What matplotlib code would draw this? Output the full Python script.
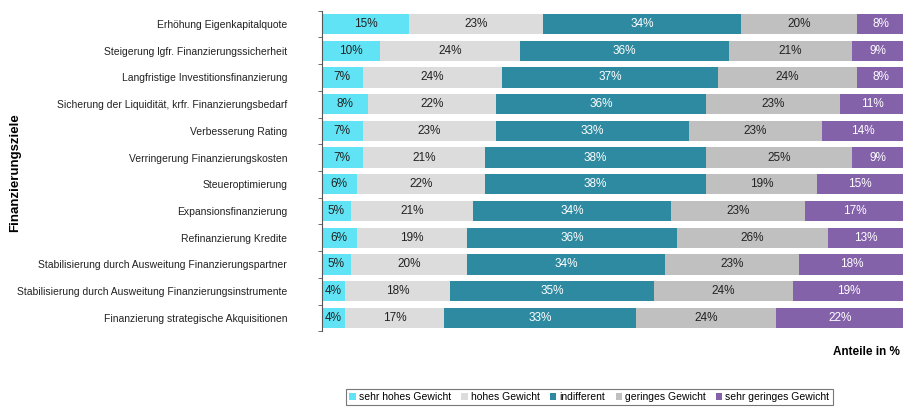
import numpy as np
import matplotlib
matplotlib.use("Agg")
import matplotlib.pyplot as plt

plt.rcParams['font.family'] = ['Liberation Sans', 'DejaVu Sans']

ziele = ['Erhöhung Eigenkapitalquote',
         'Steigerung lgfr. Finanzierungssicherheit',
         'Langfristige Investitionsfinanzierung',
         'Sicherung der Liquidität, krfr. Finanzierungsbedarf',
         'Verbesserung Rating',
         'Verringerung Finanzierungskosten',
         'Steueroptimierung',
         'Expansionsfinanzierung',
         'Refinanzierung Kredite',
         'Stabilisierung durch Ausweitung Finanzierungspartner',
         'Stabilisierung durch Ausweitung Finanzierungsinstrumente',
         'Finanzierung strategische Akquisitionen']

sehr_hoch = [15, 10, 7, 8, 7, 7, 6, 5, 6, 5, 4, 4]
hoch = [23, 24, 24, 22, 23, 21, 22, 21, 19, 20, 18, 17]
indifferent = [34, 36, 37, 36, 33, 38, 38, 34, 36, 34, 35, 33]
gering = [20, 21, 24, 23, 23, 25, 19, 23, 26, 23, 24, 24]
sehr_gering = [8, 9, 8, 11, 14, 9, 15, 17, 13, 18, 19, 22]

serien = ['sehr hohes Gewicht', 'hohes Gewicht', 'indifferent',
          'geringes Gewicht', 'sehr geringes Gewicht']
farben = ['#5fe3f5', '#dcdcdc', '#2e8aa0', '#c0c0c0', '#8462aa']
textfarben = ['#222222', '#222222', 'white', '#222222', 'white']

fig = plt.figure(figsize=(9.04, 4.08), dpi=100)
ax = fig.add_axes([0.356, 0.188, 0.644, 0.786])

y = np.arange(len(ziele))
left = np.zeros(len(ziele))
for werte, name, farbe, tf in zip([sehr_hoch, hoch, indifferent, gering, sehr_gering],
                                  serien, farben, textfarben):
    werte = np.array(werte)
    bars = ax.barh(y, werte, left=left, height=0.76, color=farbe, label=name)
    for b, v, l in zip(bars, werte, left):
        ax.text(l + v / 2, b.get_y() + b.get_height() / 2, f'{v}%',
                ha='center', va='center', fontsize=8.5, color=tf)
    left += werte

ax.set_xlim(0, 100)
ax.set_ylim(len(ziele) - 0.5, -0.5)
ax.set_yticks(y)
ax.set_yticklabels(ziele, fontsize=7.45, color='#222222')
ax.set_yticks(np.arange(-0.5, len(ziele)), minor=True)
ax.tick_params(axis='y', which='major', length=0, pad=25)
ax.tick_params(axis='y', which='minor', length=3, color='#555555')
ax.set_xticks([])
for s in ['top', 'right', 'bottom']:
    ax.spines[s].set_visible(False)
ax.spines['left'].set_color('#555555')
ax.spines['left'].set_linewidth(0.8)

fig.text(0.017, 0.576, 'Finanzierungsziele', rotation=90, ha='center', va='center',
         fontsize=9.5, fontweight='bold')
fig.text(0.995, 0.137, 'Anteile in %', ha='right', va='center',
         fontsize=8.5, fontweight='bold')

leg = fig.legend(loc='center', bbox_to_anchor=(0.652, 0.027), ncol=5, fontsize=7.5,
                 frameon=True, fancybox=False, edgecolor='#555555',
                 handlelength=0.6, handleheight=0.6, handletextpad=0.3,
                 columnspacing=1.0, borderpad=0.3)
leg.get_frame().set_linewidth(0.8)

fig.savefig('out.png', dpi=100)
